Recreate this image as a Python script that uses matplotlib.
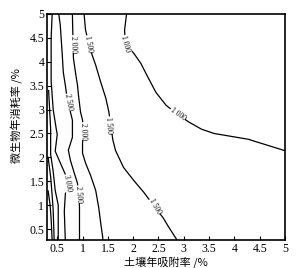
import matplotlib
matplotlib.use("Agg")
import matplotlib.pyplot as plt

plt.rcParams['font.family'] = ['Liberation Serif', 'DejaVu Serif']

# contour lines (x: soil adsorption %/yr, y: microbial consumption %/yr)
levels = [1000, 1500, 2000, 2500, 3000, 3500, 4000, 4500]

x1000 = [1.87, 1.83, 1.85, 2.01, 2.15, 2.29, 2.45, 2.65, 2.88, 3.10, 3.35, 3.60, 4.27, 5.0]
y1000 = [5.0, 4.66, 4.37, 4.18, 3.97, 3.68, 3.36, 3.09, 2.90, 2.74, 2.59, 2.50, 2.38, 2.14]

x1500 = [1.03, 1.06, 1.12, 1.19, 1.26, 1.36, 1.46, 1.52, 1.56, 1.60, 1.65, 1.81, 2.01, 2.21, 2.40, 2.59, 2.71, 2.85, 2.87]
y1500 = [5.0, 4.66, 4.40, 4.14, 3.93, 3.57, 3.24, 2.95, 2.65, 2.36, 2.15, 1.79, 1.52, 1.27, 1.0, 0.74, 0.53, 0.30, 0.26]

x2000 = [0.80, 0.81, 0.82, 0.86, 0.90, 0.92, 0.96, 1.0, 1.02, 1.0, 1.0, 1.06, 1.16, 1.26, 1.32, 1.36, 1.40, 1.40]
y2000 = [5.0, 4.5, 4.08, 3.78, 3.51, 3.30, 2.95, 2.78, 2.55, 2.30, 2.09, 1.88, 1.62, 1.31, 0.95, 0.62, 0.32, 0.26]

x2500 = [0.53, 0.56, 0.60, 0.62, 0.66, 0.70, 0.76, 0.80, 0.80, 0.72, 0.76, 0.82, 0.90, 0.93, 0.94, 0.94, 0.94]
y2500 = [5.0, 4.77, 4.14, 3.78, 3.51, 3.2, 2.95, 2.78, 2.42, 2.15, 1.94, 1.73, 1.46, 1.2, 0.95, 0.68, 0.26]

x3000 = [0.40, 0.38, 0.38, 0.42, 0.48, 0.50, 0.46, 0.60, 0.70, 0.66, 0.64, 0.66]
y3000 = [5.0, 4.5, 3.6, 3.0, 2.6, 2.48, 2.13, 1.79, 1.55, 1.23, 0.87, 0.26]

x3500 = [0.33, 0.37, 0.37, 0.42, 0.46, 0.52, 0.52]
y3500 = [3.4, 2.6, 2.06, 1.71, 1.31, 1.0, 0.26]

x4000 = [0.32, 0.37, 0.40, 0.42, 0.44]
y4000 = [2.0, 1.6, 1.2, 0.9, 0.26]

x4500 = [0.32, 0.36, 0.38, 0.40]
y4500 = [1.3, 1.0, 0.7, 0.26]

lines_x = [x1000, x1500, x2000, x2500, x3000, x3500, x4000, x4500]
lines_y = [y1000, y1500, y2000, y2500, y3000, y3500, y4000, y4500]

# inline labels: (text, x, y, rotation)
label_text = ["1 000", "1 000", "1 500", "1 500", "1 500", "2 000", "2 000", "2 500", "2 500", "3 000"]
label_x = [1.85, 2.88, 1.12, 1.52, 2.43, 0.82, 1.02, 0.72, 0.92, 0.70]
label_y = [4.37, 2.90, 4.37, 2.67, 0.97, 4.37, 2.55, 3.15, 1.23, 1.46]
label_rot = [-75, -35, -80, -86, -60, -88, -88, -80, -86, -80]

x_ticks = [0.5, 1, 1.5, 2, 2.5, 3, 3.5, 4, 4.5, 5]
y_ticks = [0.5, 1, 1.5, 2, 2.5, 3, 3.5, 4, 4.5, 5]

fig = plt.figure(figsize=(3.0, 2.68), dpi=100)
ax = fig.add_axes([0.157, 0.104, 0.793, 0.844])

for xs, ys in zip(lines_x, lines_y):
    ax.plot(xs, ys, color='black', lw=0.9, zorder=2)

for t, lx, ly, r in zip(label_text, label_x, label_y, label_rot):
    ax.text(lx, ly, t, rotation=r, rotation_mode='anchor', ha='center', va='center',
            fontsize=5.5, zorder=3,
            bbox=dict(facecolor='white', edgecolor='none', pad=0.3))

ax.set_xlim(0.3, 5.0)
ax.set_ylim(0.27, 5.0)
ax.set_xticks(x_ticks)
ax.set_yticks(y_ticks)
ax.set_xticklabels(['%g' % v for v in x_ticks])
ax.set_yticklabels(['%g' % v for v in y_ticks])
ax.tick_params(direction='in', length=3, width=0.8, labelsize=8.5, pad=2,
               top=False, right=False)
for s in ax.spines.values():
    s.set_linewidth(1.2)

ax.set_xlabel('土壤年吸附率 /%', family=['Noto Sans CJK SC', 'DejaVu Sans'], fontsize=8, labelpad=1)
ax.set_ylabel('微生物年消耗率 /%', family=['Noto Sans CJK SC', 'DejaVu Sans'], fontsize=8)
ax.yaxis.set_label_coords(-0.105, 0.55)

fig.savefig('out.png', dpi=100)
